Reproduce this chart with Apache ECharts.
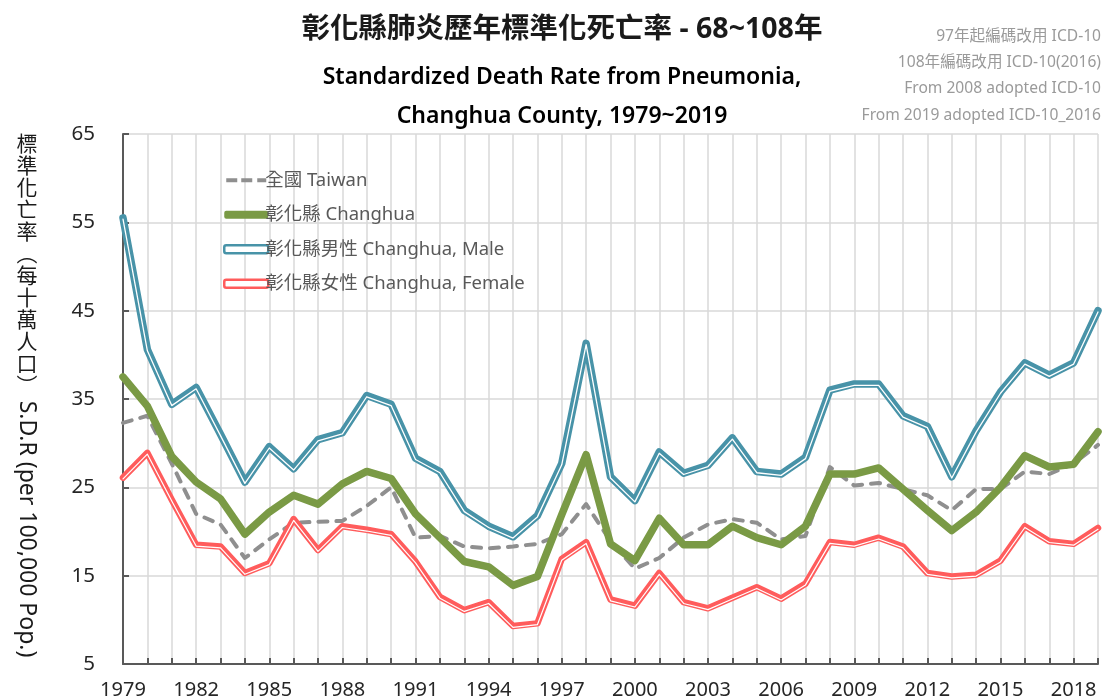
<!DOCTYPE html>
<html>
<head>
<meta charset="utf-8">
<script src="https://cdn.jsdelivr.net/npm/echarts@6/dist/echarts.min.js"></script>
<style>
html,body{margin:0;padding:0;background:#fff;}
#chart{width:1104px;height:700px;}
</style>
</head>
<body>
<div id="chart"></div>
<script>
var years = [];
for (var y = 1979; y <= 2019; y++) years.push(String(y));

var taiwan = [32.3,33.1,27.7,22.0,20.8,17.0,19.1,21.0,21.1,21.2,22.9,25.0,19.3,19.5,18.3,18.1,18.3,18.6,
  19.7,23.1,18.9,15.8,17.0,19.3,20.8,21.4,21.0,19.1,19.5,27.3,25.2,25.5,24.8,24.1,22.4,24.8,24.8,26.8,26.5,27.7,29.8];
var changhua = [37.5,34.2,28.5,25.6,23.7,19.7,22.2,24.1,23.1,25.4,26.8,26.0,22.0,19.3,16.6,16.0,13.9,14.9,
  21.9,28.7,18.6,16.7,21.5,18.5,18.5,20.6,19.3,18.5,20.6,26.5,26.5,27.2,24.8,22.4,20.1,22.2,25.0,28.6,27.3,27.6,31.3];
var male = [55.5,40.6,34.4,36.3,31.0,25.6,29.6,27.1,30.4,31.2,35.4,34.4,28.3,26.8,22.4,20.6,19.4,21.8,
  27.7,41.3,26.2,23.5,29.0,26.6,27.5,30.6,26.8,26.5,28.4,36.0,36.7,36.7,33.1,31.9,26.2,31.4,35.8,39.1,37.7,39.1,45.0];
var female = [26.1,28.9,23.6,18.5,18.3,15.3,16.4,21.4,17.9,20.6,20.2,19.7,16.6,12.6,11.1,12.0,9.3,9.6,
  16.9,18.8,12.3,11.6,15.3,12.0,11.3,12.5,13.7,12.4,14.1,18.8,18.5,19.3,18.3,15.3,14.9,15.1,16.7,20.6,18.9,18.6,20.4];

var seriesNames = ['全國 Taiwan', '彰化縣 Changhua', '彰化縣男性 Changhua, Male', '彰化縣女性 Changhua, Female'];
var titleText = '彰化縣肺炎歷年標準化死亡率 - 68~108年';
var subTitle1 = 'Standardized Death Rate from Pneumonia,';
var subTitle2 = 'Changhua County, 1979~2019';
var notes = ['97年起編碼改用 ICD-10', '108年編碼改用 ICD-10(2016)', 'From 2008 adopted ICD-10', 'From 2019 adopted ICD-10_2016'];
var yNameZh = '標準化亡率︵每十萬人口︶';
var yNameEn = 'S.D.R (per 100,000 Pop.)';

var FONT = '"Noto Sans", "Noto Sans CJK TC", sans-serif';
var C_TW = '#8f8f8f', C_CH = '#7a9a45', C_M = '#4893a8', C_F = '#ff5c5c';

var chart = echarts.init(document.getElementById('chart'), null, {renderer: 'canvas'});

function lineSeries(name, data, color, width, type, z, gridIdx) {
  return {
    name: name, type: 'line', data: data, symbol: 'none', showSymbol: false, silent: true, z: z,
    xAxisIndex: gridIdx || 0, yAxisIndex: gridIdx || 0,
    lineStyle: {color: color, width: width, type: type || 'solid', cap: 'round', join: 'round'},
    itemStyle: {color: color},
    emphasis: {disabled: true}
  };
}

var tw = lineSeries(seriesNames[0], taiwan, C_TW, 4, [9, 9], 2, 0);
var ch = lineSeries(seriesNames[1], changhua, C_CH, 7.5, 'solid', 3, 0);
var ml = lineSeries(seriesNames[2], male, C_M, 7.5, 'solid', 4, 0);
var mlIn = lineSeries('male-inner', male, '#ffffff', 1.3, 'solid', 5, 1);
var fm = lineSeries(seriesNames[3], female, C_F, 6.5, 'solid', 6, 0);
var fmIn = lineSeries('female-inner', female, '#ffffff', 1.2, 'solid', 7, 1);

var dashIcon = 'path://M2,2h11v4h-11z M17,2h11v4h-11z M33,2h9v4h-9z M0,0h0.01v0.01h-0.01z M44,8h-0.01v-0.01h0.01z';

var graphics = [
  {type: 'text', x: 562, y: 30, style: {text: titleText, font: 'bold 28.5px ' + FONT, fill: '#1a1a1a', textAlign: 'center', textVerticalAlign: 'middle'}},
  {type: 'text', x: 562, y: 77, style: {text: subTitle1, font: '600 23px ' + FONT, fill: '#000', textAlign: 'center', textVerticalAlign: 'middle'}},
  {type: 'text', x: 562, y: 116, style: {text: subTitle2, font: '600 23px ' + FONT, fill: '#000', textAlign: 'center', textVerticalAlign: 'middle'}},
  {type: 'text', x: 27, y: 134, style: {text: yNameZh.split('').join('\n'), font: '21px ' + FONT, fill: '#1a1a1a', textAlign: 'center', textVerticalAlign: 'top', lineHeight: 22}},
  {type: 'text', x: 27, y: 529, rotation: -Math.PI / 2, style: {text: yNameEn, font: '23px ' + FONT, fill: '#1a1a1a', textAlign: 'center', textVerticalAlign: 'middle'}}
];
var noteY = [37, 63, 89, 116];
for (var i = 0; i < notes.length; i++) {
  graphics.push({type: 'text', x: 1101, y: noteY[i], style: {text: notes[i], font: '15.6px ' + FONT, fill: '#9a9a9a', textAlign: 'right', textVerticalAlign: 'middle'}});
}

var hiddenX = {type: 'category', data: years, boundaryGap: false, gridIndex: 1, show: false};
var hiddenY = {type: 'value', min: 5, max: 65, interval: 10, gridIndex: 1, show: false, splitLine: {show: false}};

var option = {
  animation: false,
  backgroundColor: '#ffffff',
  grid: [
    {left: 123, right: 6, top: 134, bottom: 36, containLabel: false},
    {left: 123, right: 6, top: 135.3, bottom: 34.7, containLabel: false}
  ],
  legend: {
    orient: 'vertical', left: 218, top: 166, itemWidth: 44, itemHeight: 8, itemGap: 16,
    selectedMode: false,
    textStyle: {fontFamily: FONT, fontSize: 18.5, color: '#595959', padding: [0, 0, 0, -8]},
    data: [
      {name: seriesNames[0], icon: dashIcon, itemStyle: {color: C_TW, borderWidth: 0}},
      {name: seriesNames[1], icon: 'roundRect', itemStyle: {color: C_CH, borderWidth: 0}},
      {name: seriesNames[2], icon: 'roundRect', itemStyle: {color: '#ffffff', borderColor: C_M, borderWidth: 2.5}},
      {name: seriesNames[3], icon: 'roundRect', itemStyle: {color: '#ffffff', borderColor: C_F, borderWidth: 2.5}}
    ]
  },
  xAxis: [{
    type: 'category', data: years, boundaryGap: false, gridIndex: 0,
    axisLine: {lineStyle: {color: '#595959', width: 2}},
    axisTick: {inside: true, length: 6, interval: 0, lineStyle: {color: '#595959', width: 2}},
    axisLabel: {interval: 2, fontFamily: FONT, fontSize: 20, color: '#262626', margin: 16},
    splitLine: {show: true, interval: 0, lineStyle: {color: '#d9d9d9', width: 1.5}}
  }, hiddenX],
  yAxis: [{
    type: 'value', min: 5, max: 65, interval: 10, gridIndex: 0,
    axisLine: {show: true, lineStyle: {color: '#595959', width: 2}},
    axisTick: {show: true, inside: true, length: 6, lineStyle: {color: '#595959', width: 2}},
    axisLabel: {fontFamily: FONT, fontSize: 20.5, color: '#262626', margin: 28},
    splitLine: {show: true, lineStyle: {color: '#d9d9d9', width: 1.5}}
  }, hiddenY],
  series: [tw, ch, ml, mlIn, fm, fmIn],
  graphic: graphics
};
chart.setOption(option);
</script>
</body>
</html>
